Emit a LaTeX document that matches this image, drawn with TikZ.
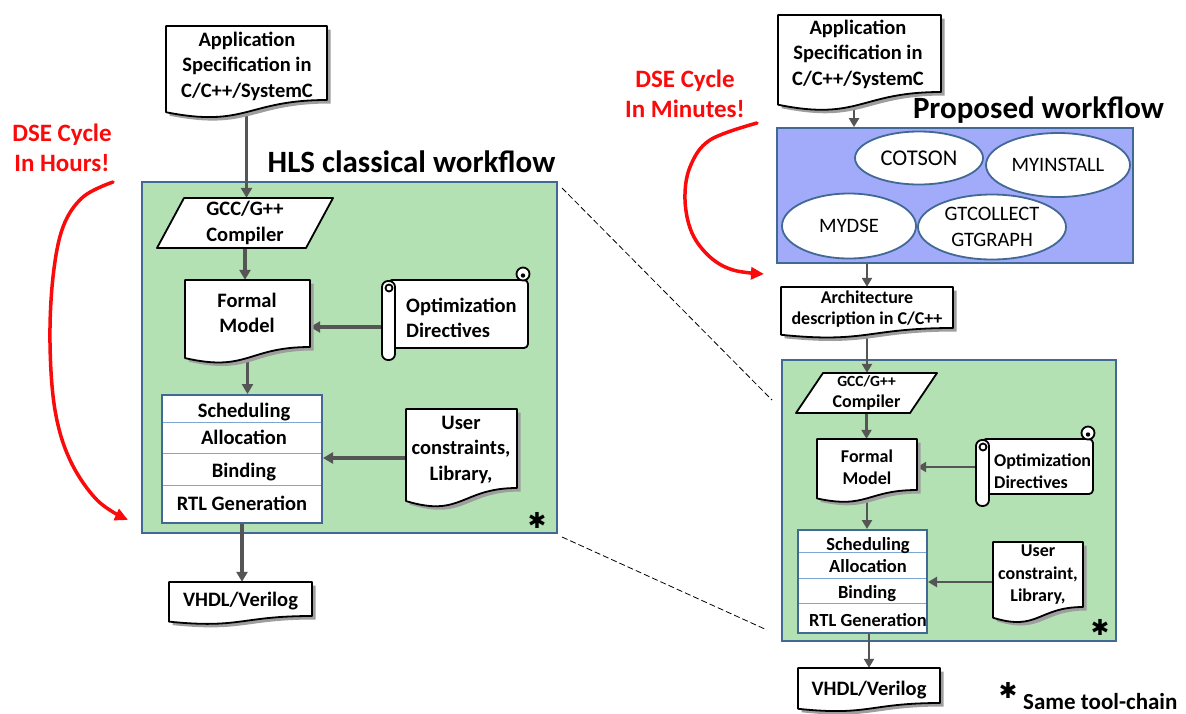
\documentclass[tikz,border=0pt]{standalone}
\usepackage{fontspec}
\setmainfont{Carlito}
\newfontfamily\symfont{DejaVu Sans}
\usetikzlibrary{shapes.geometric,arrows.meta,calc}

\definecolor{boxgreen}{RGB}{179,225,179}
\definecolor{boxblue}{RGB}{161,171,250}
\definecolor{frameblue}{RGB}{66,104,150}
\definecolor{rowline}{RGB}{125,165,215}
\definecolor{linkgray}{RGB}{85,85,85}
\definecolor{alertred}{RGB}{250,10,10}

\pgfdeclarelayer{back}
\pgfdeclarelayer{links}
\pgfsetlayers{back,links,main}

\newcommand\fs[2]{\fontsize{#1}{#2}\selectfont}

% document symbol: flat top, straight sides, wavy bottom edge
\newcommand\wavepath[5]{% style, centre x, top y, width, height of the right side
  \path[#1] ({#2-#4/2},#3) -- ({#2+#4/2},#3) -- ({#2+#4/2},{#3+#5})
    .. controls (#2,{#3+#5}) and (#2,{#3+1.38*#5}) .. ({#2-#4/2},{#3+1.165*#5}) -- cycle;}

\newcommand\docnode[5]{% name, centre x, top y, width, height of the right side
  \wavepath{docshadow,shift={(3.5,3.5)}}{#2}{#3}{#4}{#5}
  \wavepath{docline,fill=white}{#2}{#3}{#4}{#5}
  \node[inner sep=0pt,minimum width=#4pt,minimum height=#5pt] (#1) at (#2,{#3+#5/2}) {};}

% scroll symbol: sheet with a roll on the left and a curl at the top right
\newcommand\scrollnode[5]{% name, left x, top y, right x, bottom y of the sheet
  \draw[docline,fill=white,rounded corners=4pt] ({#2+6},#3) rectangle (#4,#5);
  \draw[docline,fill=white] ({#4-5},{#3-6}) circle (6.5pt);
  \fill ({#4-5},{#3-4.5}) circle (2.2pt);
  \draw[docline,fill=white,rounded corners=6pt] (#2,{#3+1}) rectangle ({#2+13},{#5+12});
  \draw[docline] ({#2+7},{#3+8}) circle (3.5pt);
  \node[inner sep=0pt,minimum width={(#4-#2)*1pt},minimum height={(#5+12-#3)*1pt}]
    (#1) at ({(#2+#4)/2},{(#3+#5+12)/2}) {};}

\begin{document}
\begin{tikzpicture}[x=1pt,y=-1pt,
  docline/.style={draw=black,line width=1.8pt,line join=round},
  docshadow/.style={fill=black!38},
  txt/.style={inner sep=0pt,align=center,font={\fs{20.5}{25.5}\bfseries}},
  txtR/.style={inner sep=0pt,align=center,font={\fs{18}{21.5}\bfseries}},
  rowL/.style={inner sep=0pt,anchor=base,font={\fs{20.5}{25}\bfseries}},
  rowR/.style={inner sep=0pt,anchor=base,font={\fs{18.5}{22}\bfseries}},
  heading/.style={inner sep=0pt,anchor=base,font={\fs{31}{36}\bfseries}},
  redtext/.style={inner sep=0pt,align=center,text=alertred,font={\fs{25}{30}\bfseries}},
  greenbox/.style={draw=frameblue,line width=1.8pt,fill=boxgreen,inner sep=0pt},
  bluebox/.style={draw=frameblue,line width=1.8pt,fill=boxblue,inner sep=0pt},
  listbox/.style={draw=frameblue,line width=2pt,fill=white,inner sep=0pt},
  rowsep/.style={draw=rowline,line width=1pt},
  tool/.style={ellipse,draw=frameblue,line width=1.8pt,fill=white,inner sep=0pt,
    align=center,font={\fs{20.5}{26.5}}},
  starmark/.style={inner sep=0pt,font={\fs{22}{22}\symfont}},
  flow/.style={draw=linkgray,line width=3.3pt,-{Triangle[length=10pt,width=11pt]}},
  flowR/.style={draw=linkgray,line width=2.8pt,-{Triangle[length=9pt,width=10pt]}},
  dsearrow/.style={draw=alertred,line width=3.5pt,line cap=round,
    -{Triangle[length=13pt,width=12pt]}},
  zoomline/.style={draw=black,line width=0.8pt,dash pattern=on 6pt off 3pt}]

\useasboundingbox (0,0) rectangle (1186,713);

% containers
\begin{pgfonlayer}{back}
  \node[greenbox,minimum width=415pt,minimum height=351pt] (hlsL) at (349.5,357.5) {};
  \node[greenbox,minimum width=334pt,minimum height=281pt] (hlsR) at (949,500.5) {};
  \node[bluebox,minimum width=356pt,minimum height=135pt] (dse) at (955,195.5) {};
\end{pgfonlayer}

% headings
\node[heading] (hlsTitle) at (411.5,172) {HLS classical workflow};
\node[heading] (propTitle) at (1038.5,118) {Proposed workflow};

% ---------------- classical flow ----------------
\docnode{appL}{246.5}{26}{161}{74}
\node[txt] (appLt) at (247,66) {Application\\Specification in\\C/C++/SystemC};

\draw[docline,fill=white] (184,198) -- (333,198) -- (306,248) -- (157,248) -- cycle;
\node[txt,minimum width=176pt,minimum height=50pt] (gccL) at (245,223) {GCC/G++\\Compiler};

\docnode{formalL}{247.5}{280}{125}{67}
\node[txt] (formalLt) at (247,313) {Formal\\Model};

\scrollnode{optL}{382}{280}{528}{348}
\node[txt,align=left,anchor=west] (optLt) at (406,318) {Optimization\\Directives};

\node[listbox,minimum width=160pt,minimum height=128pt] (listL) at (242,459) {};
\draw[rowsep] (163,422) -- (321,422) (163,453) -- (321,453) (163,485) -- (321,485);
\node[rowL] (schedL) at (244,417) {Scheduling};
\node[rowL] (allocL) at (244,444) {Allocation};
\node[rowL] (bindL) at (244,477) {Binding};
\node[rowL] (rtlL) at (242,510) {RTL Generation};

\docnode{userL}{461.5}{409}{111}{79}
\node[txt] (userLt) at (461,449.5) {User\\constraints,\\Library,};

\docnode{vhdlL}{240.5}{582}{143}{34}
\node[txt] (vhdlLt) at (240.5,601) {VHDL/Verilog};

\node[starmark] (starL) at (537,520) {✱};

% ---------------- proposed flow ----------------
\docnode{appR}{859.5}{15}{163}{77}
\node[txt] (appRt) at (858,54) {Application\\Specification in\\C/C++/SystemC};

\node[tool,minimum width=128pt,minimum height=53pt,font={\fs{22.5}{27}}] (cotson) at (919,158) {COTSON};
\node[tool,minimum width=144pt,minimum height=64pt] (myinstall) at (1058,165) {MYINSTALL};
\node[tool,minimum width=134pt,minimum height=65pt] (mydse) at (849,226) {MYDSE};
\node[tool,minimum width=148pt,minimum height=65pt] (gtc) at (992,227) {GTCOLLECT\\GTGRAPH};

\docnode{archR}{867}{287}{172}{41}
\node[txtR] (archRt) at (867,309) {Architecture\\description in C/C++};

\draw[docline,fill=white] (823,373) -- (937,373) -- (910,413) -- (796,413) -- cycle;
\node[txtR,minimum width=141pt,minimum height=40pt] (gccR) at (866.5,393)
  {{\fs{15.5}{19}\bfseries GCC/G++}\\Compiler};

\docnode{formalR}{867}{439}{100}{51}
\node[txtR] (formalRt) at (867,467) {Formal\\Model};

\scrollnode{optR}{976}{439}{1093}{494}
\node[txtR,align=left,anchor=west] (optRt) at (994,471) {Optimization\\Directives};

\node[listbox,minimum width=129pt,minimum height=103pt] (listR) at (862.5,581.5) {};
\draw[rowsep] (799,552) -- (926,552) (799,578) -- (926,578) (799,603) -- (926,603);
\node[rowR] (schedR) at (868,550) {Scheduling};
\node[rowR] (allocR) at (868,572) {Allocation};
\node[rowR] (bindR) at (867,598) {Binding};
\node[rowR] (rtlR) at (868,626) {RTL Generation};

\docnode{userR}{1038}{542}{90}{65}
\node[txtR,font={\fs{18}{22.5}\bfseries}] (userRt) at (1038,575) {User\\constraint,\\Library,};

\docnode{vhdlR}{869}{668}{142}{35}
\node[txt] (vhdlRt) at (869,690) {VHDL/Verilog};

\node[starmark] (starR) at (1100,627) {✱};

% key
\node[starmark] (starKey) at (1008,690) {✱};
\node[inner sep=0pt,anchor=base west,font={\fs{23}{27}\bfseries}] (keyText) at (1023,709) {Same tool-chain};

% design-space-exploration loops
\node[redtext] (dseL) at (62,148) {DSE Cycle\\In Hours!};
\draw[dsearrow] plot[smooth,tension=0.6] coordinates
  {(113,182) (83,197) (63,227) (53,277) (50,343) (55,410) (70,460) (97,500) (128,520)};
\node[redtext] (dseR) at (685,94) {DSE Cycle\\In Minutes!};
\draw[dsearrow] plot[smooth,tension=0.6] coordinates
  {(757,123) (710,140) (690,167) (685,200) (692,233) (710,257) (733,270) (764,274)};

% zoom guides between the two tool-chains
\coordinate (zoomTopA) at (562,188);
\coordinate (zoomTopB) at (772,400);
\coordinate (zoomBotA) at (562,537);
\coordinate (zoomBotB) at (767,630);
\draw[zoomline] (zoomTopA) -- (zoomTopB);
\draw[zoomline] (zoomBotA) -- (zoomBotB);

% ports for the side inputs
\coordinate (optLport) at ([yshift=-7pt]optL.west);
\coordinate (userLport) at ([yshift=-9.5pt]userL.west);
\coordinate (appRport) at ([xshift=-5.5pt]appR.south);
\coordinate (optRport) at ([yshift=5.5pt]optR.west);
\coordinate (userRport) at ([yshift=-7.5pt]userR.west);

% flow arrows
\begin{pgfonlayer}{links}
  \draw[flow] (appL.south) -- (appL.south |- gccL.north);
  \draw[flow] (gccL.south) -- (gccL.south |- formalL.north);
  \draw[flow] (formalL.south) -- (formalL.south |- listL.north);
  \draw[flow] (optLport) -- (optLport -| formalL.east);
  \draw[flow] (userLport) -- (userLport -| listL.east);
  \draw[flow] (listL.south) -- (listL.south |- vhdlL.north);

  \draw[flowR] (appRport) -- (appRport |- dse.north);
  \draw[flowR] (archR.north |- dse.south) -- (archR.north);
  \draw[flowR] (archR.south) -- (archR.south |- gccR.north);
  \draw[flowR] (gccR.south) -- (gccR.south |- formalR.north);
  \draw[flowR] (formalR.south) -- (formalR.south |- listR.north);
  \draw[flowR] (optRport) -- (optRport -| formalR.east);
  \draw[flowR] (userRport) -- (userRport -| listR.east);
  \draw[flowR] (vhdlR.north |- listR.south) -- (vhdlR.north);
\end{pgfonlayer}
\end{tikzpicture}
\end{document}
